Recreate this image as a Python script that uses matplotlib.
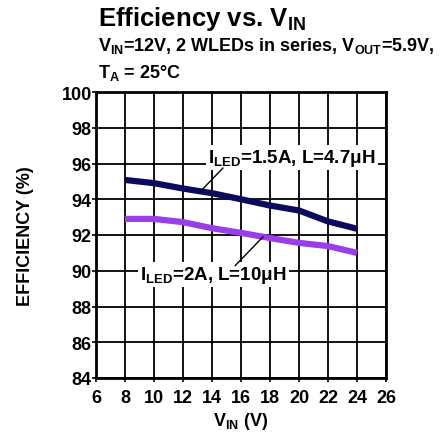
import matplotlib
matplotlib.use("Agg")
import matplotlib.pyplot as plt
import numpy as np

plt.rcParams['font.family'] = ['Liberation Sans', 'DejaVu Sans']
plt.rcParams['font.weight'] = 'bold'
plt.rcParams['mathtext.fontset'] = 'custom'
plt.rcParams['mathtext.rm'] = 'Liberation Sans:bold'
plt.rcParams['mathtext.it'] = 'Liberation Sans:bold'
plt.rcParams['mathtext.bf'] = 'Liberation Sans:bold'

# data
vin = [8, 10, 12, 14, 16, 18, 20, 22, 24]
eff_15a = [95.08, 94.9, 94.6, 94.34, 94.0, 93.65, 93.37, 92.76, 92.35]
eff_2a = [92.9, 92.9, 92.72, 92.38, 92.12, 91.83, 91.56, 91.38, 91.0]
x_ticks = list(range(6, 27, 2))
y_ticks = list(range(84, 101, 2))

fig = plt.figure(figsize=(4.46, 4.35), dpi=100)
ax = fig.add_axes([96 / 446, 56 / 435, 290 / 446, 286 / 435])

ax.set_xlim(6, 26)
ax.set_ylim(84, 100)
ax.set_xticks(x_ticks)
ax.set_yticks(y_ticks)
ax.grid(True, color='black', linewidth=1.3)
ax.set_axisbelow(True)
for s in ax.spines.values():
    s.set_linewidth(2)
ax.tick_params(axis='both', direction='out', length=3, width=1.2, labelsize=13)
ax.tick_params(axis='y', pad=0)
ax.tick_params(axis='x', pad=5)
for lab in ax.get_xticklabels() + ax.get_yticklabels():
    lab.set_fontweight('bold')

ax.plot(vin, eff_15a, color='#0c0a5c', linewidth=4.5, solid_capstyle='butt', zorder=3)
ax.plot(vin, eff_2a, color='#9a3ee8', linewidth=4.5, solid_capstyle='butt', zorder=3)

bbox = dict(facecolor='white', edgecolor='none', pad=1.5)
ax.text(13.75, 96.09, r'$\mathrm{I_{LED}}$=1.5A, L=4.7μH', fontsize=13.5, fontweight='bold',
        ha='left', va='baseline', bbox=bbox, zorder=4)
ax.annotate('', xy=(13.17, 94.41), xytext=(14.76, 95.75),
            arrowprops=dict(arrowstyle='-', color='black', lw=1, shrinkA=0, shrinkB=0), zorder=5)
ax.text(9.05, 89.55, r'$\mathrm{I_{LED}}$=2A, L=10μH', fontsize=13.5, fontweight='bold',
        ha='left', va='baseline', bbox=bbox, zorder=4)
ax.annotate('', xy=(17.52, 91.9), xytext=(15.59, 90.28),
            arrowprops=dict(arrowstyle='-', color='black', lw=1, shrinkA=0, shrinkB=0), zorder=5)

ax.set_xlabel(r'$\mathrm{V_{IN}}$ (V)', fontsize=13, fontweight='bold', labelpad=3)
ax.set_ylabel('EFFICIENCY (%)', fontsize=13, fontweight='bold', labelpad=20)

fig.text(98 / 446, 1 - 19 / 435, r'Efficiency vs. $\mathrm{V_{IN}}$', fontsize=18.5,
         fontweight='bold', ha='left', va='center')
fig.text(98 / 446, 1 - 51 / 435, r'$\mathrm{V_{IN}}$=12V, 2 WLEDs in series, $\mathrm{V_{OUT}}$=5.9V,',
         fontsize=13, fontweight='bold', ha='left', va='baseline')
fig.text(98 / 446, 1 - 78 / 435, r'$\mathrm{T_A}$ = 25°C', fontsize=13,
         fontweight='bold', ha='left', va='baseline')

fig.savefig('out.png', dpi=100)
